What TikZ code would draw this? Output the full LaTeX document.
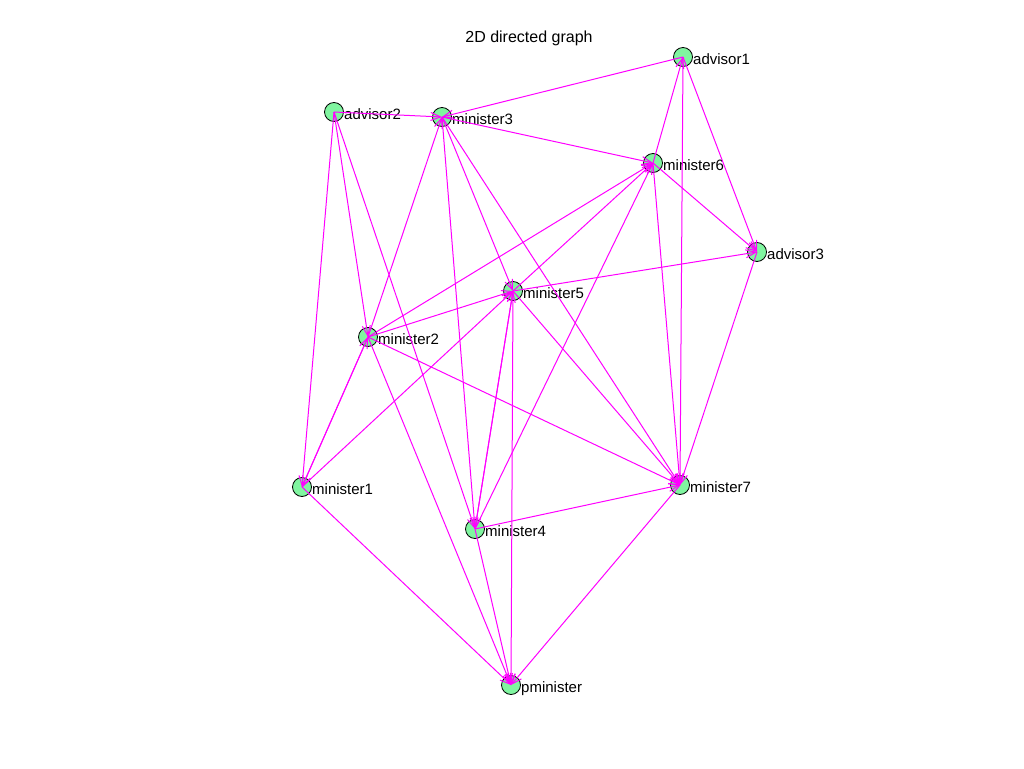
\documentclass[tikz,border=0pt]{standalone}
\usepackage{fontspec}
\setmainfont{Liberation Sans}
\usetikzlibrary{arrows.meta}
\definecolor{nodegreen}{RGB}{128,245,160}
\definecolor{edgemag}{RGB}{255,0,255}
\begin{document}
\begin{tikzpicture}[x=1pt,y=-1pt,
  vert/.style={circle, draw=black, fill=nodegreen, minimum size=19pt, inner sep=0pt, line width=0.8pt},
  lab/.style={anchor=base west, inner sep=0pt, font=\fontsize{15}{18}\selectfont},
  edge/.style={draw=edgemag, line width=1pt, -{Straight Barb[length=10pt,width=8pt]}}]
\fill[white] (0,0) rectangle (1024,768);
\useasboundingbox (0,0) rectangle (1024,768);
\node[anchor=base, inner sep=0pt, font=\fontsize{16}{19}\selectfont] (title) at (529,42) {2D directed graph};
% vertices
\node[vert] (a1) at (683,57) {};
\node[vert] (a2) at (334,112) {};
\node[vert] (m3) at (442,117) {};
\node[vert] (m6) at (653,163) {};
\node[vert] (a3) at (757,252) {};
\node[vert] (m5) at (513,291) {};
\node[vert] (m2) at (368,337) {};
\node[vert] (m1) at (302,487) {};
\node[vert] (m7) at (680,485) {};
\node[vert] (m4) at (475,529) {};
\node[vert] (pm) at (511,685) {};
% labels
\node[lab] (la1) at (693,64) {advisor1};
\node[lab] (la2) at (344,119) {advisor2};
\node[lab] (lm3) at (452,124) {minister3};
\node[lab] (lm6) at (663,170) {minister6};
\node[lab] (la3) at (767,259) {advisor3};
\node[lab] (lm5) at (523,298) {minister5};
\node[lab] (lm2) at (378,344) {minister2};
\node[lab] (lm1) at (312,494) {minister1};
\node[lab] (lm7) at (690,492) {minister7};
\node[lab] (lm4) at (485,536) {minister4};
\node[lab] (lpm) at (521,692) {pminister};
% edges
\draw[edge] (a1.center) -- (m3.center);
\draw[edge] (a1.center) -- (a3.center);
\draw[edge] (a1.center) -- (m7.center);
\draw[edge] (m6.center) -- (a1.center);
\draw[edge] (a2.center) -- (m3.center);
\draw[edge] (a2.center) -- (m1.center);
\draw[edge] (a2.center) -- (m2.center);
\draw[edge] (a2.center) -- (m4.center);
\draw[edge] (m3.center) -- (m6.center);
\draw[edge] (m3.center) -- (m4.center);
\draw[edge] (m3.center) -- (m5.center);
\draw[edge] (m3.center) -- (m7.center);
\draw[edge] (m2.center) -- (m3.center);
\draw[edge] (m2.center) -- (m6.center);
\draw[edge] (m2.center) -- (m5.center);
\draw[edge] (m2.center) -- (m7.center);
\draw[edge] (m2.center) -- (pm.center);
\draw[edge] (m2.center) -- (m1.center);
\draw[edge] (m1.center) -- (m2.center);
\draw[edge] (m1.center) -- (m5.center);
\draw[edge] (m1.center) -- (pm.center);
\draw[edge] (m5.center) -- (m6.center);
\draw[edge] (m5.center) -- (a3.center);
\draw[edge] (m5.center) -- (m7.center);
\draw[edge] (m5.center) -- (pm.center);
\draw[edge] (m5.center) -- (m4.center);
\draw[edge] (m4.center) -- (m5.center);
\draw[edge] (m4.center) -- (m6.center);
\draw[edge] (m4.center) -- (m7.center);
\draw[edge] (m4.center) -- (pm.center);
\draw[edge] (m6.center) -- (m7.center);
\draw[edge] (m6.center) -- (a3.center);
\draw[edge] (a3.center) -- (m7.center);
\draw[edge] (m7.center) -- (pm.center);
\end{tikzpicture}
\end{document}
